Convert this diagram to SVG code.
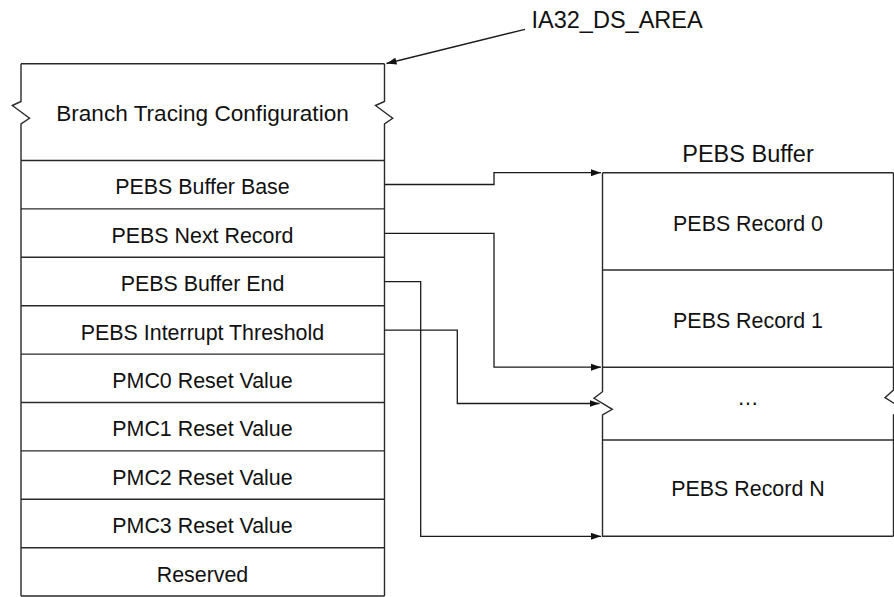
<svg xmlns="http://www.w3.org/2000/svg" width="894" height="597" viewBox="0 0 894 597">
  <style>
    .frame { fill: none; stroke: #2a2a2a; stroke-width: 1.4; }
    .sep { stroke: #2a2a2a; stroke-width: 1.4; }
    .wire { fill: none; stroke: #1a1a1a; stroke-width: 1.3; }
    .lbl { font-family: "Liberation Sans", Arial, sans-serif; font-size: 21.4px; fill: #111; text-anchor: middle; }
    .ttl { font-family: "Liberation Sans", Arial, sans-serif; font-size: 23.5px; fill: #111; }
  </style>
  <defs>
    <marker id="head" viewBox="0 0 10 7" refX="10" refY="3.5" markerWidth="10" markerHeight="7" markerUnits="userSpaceOnUse" orient="auto">
      <path d="M0,0 L10,3.5 L0,7 z" fill="#111"/>
    </marker>
  </defs>

  <rect width="894" height="597" fill="#fff"/>

  <!-- DS save area table -->
  <g id="ds-area">
    <path class="frame" d="M21,63.7 H384.5"/>
    <path class="frame" d="M21,63.7 V101.5 L12.3,105.5 L29.5,118.3 L21,123.8 V596"/>
    <path class="frame" d="M384.5,63.7 V101.5 L375.5,105.5 L392.7,118.3 L384.5,123.8 V596"/>
    <path class="sep" d="M21,596 H384.5"/>
    <text class="lbl" x="202.5" y="121" style="font-size:22.6px">Branch Tracing Configuration</text>
  </g>
  <g id="pebs-buffer-base">
    <path class="sep" d="M21,160.5 H384.5"/>
    <text class="lbl" x="202.5" y="194.3">PEBS Buffer Base</text>
  </g>
  <g id="pebs-next-record">
    <path class="sep" d="M21,208.9 H384.5"/>
    <text class="lbl" x="202.5" y="242.7">PEBS Next Record</text>
  </g>
  <g id="pebs-buffer-end">
    <path class="sep" d="M21,257.3 H384.5"/>
    <text class="lbl" x="202.5" y="291.1">PEBS Buffer End</text>
  </g>
  <g id="pebs-interrupt-threshold">
    <path class="sep" d="M21,305.7 H384.5"/>
    <text class="lbl" x="202.5" y="339.5">PEBS Interrupt Threshold</text>
  </g>
  <g id="pmc0-reset">
    <path class="sep" d="M21,354.1 H384.5"/>
    <text class="lbl" x="202.5" y="387.9">PMC0 Reset Value</text>
  </g>
  <g id="pmc1-reset">
    <path class="sep" d="M21,402.5 H384.5"/>
    <text class="lbl" x="202.5" y="436.3">PMC1 Reset Value</text>
  </g>
  <g id="pmc2-reset">
    <path class="sep" d="M21,450.9 H384.5"/>
    <text class="lbl" x="202.5" y="484.7">PMC2 Reset Value</text>
  </g>
  <g id="pmc3-reset">
    <path class="sep" d="M21,499.3 H384.5"/>
    <text class="lbl" x="202.5" y="533.1">PMC3 Reset Value</text>
  </g>
  <g id="reserved">
    <path class="sep" d="M21,547.7 H384.5"/>
    <text class="lbl" x="202.5" y="581.5">Reserved</text>
  </g>

  <!-- MSR label -->
  <g id="ia32-ds-area">
    <text class="ttl" x="531.5" y="28.3">IA32_DS_AREA</text>
  </g>

  <!-- PEBS buffer -->
  <g id="pebs-buffer">
    <text class="ttl" x="748" y="161.7" text-anchor="middle">PEBS Buffer</text>
    <path class="frame" d="M602.5,172.7 H893.5"/>
    <path class="frame" d="M602.5,172.7 V391.7 L594,398.3 L612.3,409.3 L602.5,415 V536.3 H893.5"/>
    <path class="frame" d="M893.5,172.7 V390 L885,397.7 L903.5,409 L893.5,415 V536.3"/>
  </g>
  <g id="pebs-record-0">
    <text class="lbl" x="748" y="230.7">PEBS Record 0</text>
  </g>
  <g id="pebs-record-1">
    <path class="sep" d="M602.5,270 H893.5"/>
    <text class="lbl" x="748" y="328.3">PEBS Record 1</text>
  </g>
  <g id="pebs-record-gap">
    <path class="sep" d="M602.5,367.2 H893.5"/>
    <text class="lbl" x="748" y="404.5">…</text>
  </g>
  <g id="pebs-record-n">
    <path class="sep" d="M602.5,440 H893.5"/>
    <text class="lbl" x="748" y="495.7">PEBS Record N</text>
  </g>

  <!-- pointers -->
  <g id="connectors">
    <path class="wire" marker-end="url(#head)" d="M525,29.3 L386.5,63.5"/>
    <path class="wire" marker-end="url(#head)" d="M385,184.5 H494 V172.7 H601"/>
    <path class="wire" marker-end="url(#head)" d="M385,233.3 H494 V367.2 H601"/>
    <path class="wire" marker-end="url(#head)" d="M385,281.7 H420.7 V536.3 H601"/>
    <path class="wire" marker-end="url(#head)" d="M385,330.2 H457.3 V403.5 H599.5"/>
  </g>
</svg>
